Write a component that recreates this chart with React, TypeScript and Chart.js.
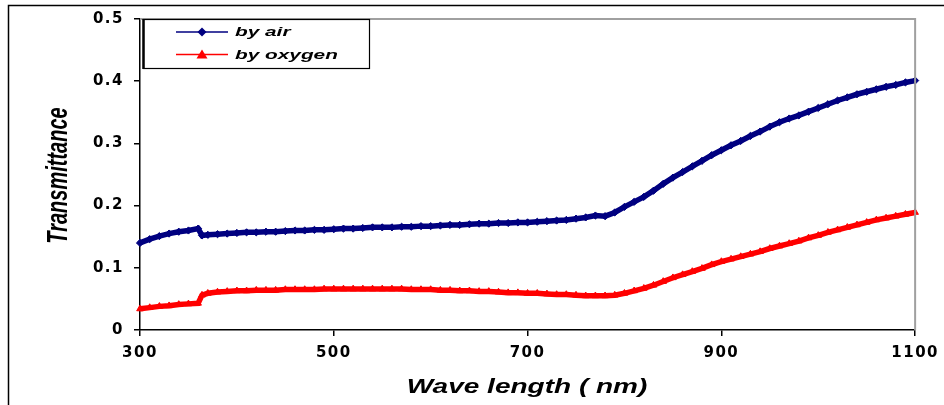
import React, { useEffect, useRef } from "react";
import { Chart, registerables } from "chart.js";

Chart.register(...registerables);

// Wavelength (nm)
const wavelengths = [
  300, 310, 320, 330, 340, 350, 360, 364, 370, 380, 390, 400, 410, 420, 430, 440, 450, 460, 470, 480,
  490, 500, 510, 520, 530, 540, 550, 560, 570, 580, 590, 600, 610, 620, 630, 640, 650, 660, 670, 680,
  690, 700, 710, 720, 730, 740, 750, 760, 770, 780, 790, 800, 810, 820, 830, 840, 850, 860, 870, 880,
  890, 900, 910, 920, 930, 940, 950, 960, 970, 980, 990, 1000, 1010, 1020, 1030, 1040, 1050, 1060,
  1070, 1080, 1090, 1100,
];

// Transmittance, "by air"
const airT = [
  0.14, 0.146, 0.151, 0.155, 0.158, 0.16, 0.163, 0.152, 0.153, 0.154, 0.155, 0.156, 0.157, 0.157, 0.158, 0.158, 0.159, 0.16, 0.16, 0.161,
  0.161, 0.162, 0.163, 0.163, 0.164, 0.165, 0.165, 0.165, 0.166, 0.166, 0.167, 0.167, 0.168, 0.169, 0.169, 0.17, 0.171, 0.171, 0.172, 0.172,
  0.173, 0.173, 0.174, 0.175, 0.176, 0.177, 0.179, 0.181, 0.184, 0.183, 0.189, 0.198, 0.206, 0.214, 0.224, 0.235, 0.245, 0.254, 0.263, 0.272,
  0.281, 0.289, 0.297, 0.304, 0.312, 0.319, 0.327, 0.334, 0.34, 0.345, 0.351, 0.357, 0.363, 0.369, 0.374, 0.379, 0.383, 0.387,
  0.391, 0.394, 0.398, 0.401,
];

// Transmittance, "by oxygen"
const oxygenT = [
  0.034, 0.036, 0.038, 0.039, 0.041, 0.042, 0.043, 0.056, 0.059, 0.061, 0.062, 0.063, 0.063, 0.064, 0.064, 0.064, 0.065, 0.065, 0.065, 0.065,
  0.066, 0.066, 0.066, 0.066, 0.066, 0.066, 0.066, 0.066, 0.066, 0.065, 0.065, 0.065, 0.064, 0.064, 0.063, 0.063, 0.062, 0.062, 0.061, 0.06,
  0.06, 0.059, 0.059, 0.058, 0.057, 0.057, 0.056, 0.055, 0.055, 0.055, 0.056, 0.059, 0.063, 0.067, 0.072, 0.078, 0.084, 0.089, 0.094, 0.099,
  0.105, 0.11, 0.114, 0.118, 0.122, 0.126, 0.131, 0.135, 0.139, 0.143, 0.148, 0.152, 0.157, 0.161, 0.165, 0.169, 0.173, 0.177,
  0.18, 0.183, 0.186, 0.189,
];

const xTicks = [300, 500, 700, 900, 1100];
const yTicks = [0, 0.1, 0.2, 0.3, 0.4, 0.5];
const seriesNames = ["by air", "by oxygen"];
const xTitle = "Wave length ( nm)";
const yTitle = "Transmittance";

const BLUE = "#000080";
const RED = "#FF0000";

const decorPlugin = {
  id: "decor",
  beforeDraw(chart: any) {
    const ctx = chart.ctx;
    ctx.save();
    ctx.fillStyle = "#ffffff";
    ctx.fillRect(0, 0, chart.width, chart.height);
    ctx.restore();
    ctx.letterSpacing = "1.5px";
  },
  beforeDatasetsDraw(chart: any) {
    chart.ctx.letterSpacing = "0px";
  },
  afterDraw(chart: any) {
    const ctx = chart.ctx;
    const a = chart.chartArea;
    ctx.save();
    ctx.letterSpacing = "0px";

    // plot area top/right border (grey)
    ctx.strokeStyle = "#a0a0a0";
    ctx.lineWidth = 2;
    ctx.beginPath();
    ctx.moveTo(a.left, a.top);
    ctx.lineTo(a.right, a.top);
    ctx.lineTo(a.right, a.bottom);
    ctx.stroke();

    // outer frame
    ctx.strokeStyle = "#000";
    ctx.lineWidth = 1.5;
    ctx.beginPath();
    ctx.moveTo(8.5, chart.height);
    ctx.lineTo(8.5, 5.5);
    ctx.lineTo(chart.width, 5.5);
    ctx.stroke();

    ctx.fillStyle = "#000";
    // x title
    ctx.save();
    ctx.font = 'italic bold 20px "Liberation Sans", Arial, sans-serif';
    ctx.textAlign = "center";
    ctx.textBaseline = "alphabetic";
    ctx.translate(527, 393);
    ctx.scale(1.4, 1);
    ctx.fillText(xTitle, 0, 0);
    ctx.restore();

    // y title
    ctx.save();
    ctx.font = 'italic bold 20px "Liberation Sans", Arial, sans-serif';
    ctx.textAlign = "center";
    ctx.textBaseline = "alphabetic";
    ctx.translate(67, 175.5);
    ctx.scale(1.5, 1);
    ctx.rotate(-Math.PI / 2);
    ctx.fillText(yTitle, 0, 0);
    ctx.restore();

    // legend box
    ctx.fillStyle = "#fff";
    ctx.fillRect(143, 19, 226, 49);
    ctx.strokeStyle = "#000";
    ctx.lineWidth = 1.2;
    ctx.strokeRect(143.5, 19.5, 226, 49);
    ctx.lineWidth = 2.5;
    ctx.beginPath();
    ctx.moveTo(143.5, 19);
    ctx.lineTo(143.5, 69);
    ctx.stroke();

    const entries = [
      { y: 32, color: BLUE, style: "diamond", text: seriesNames[0] },
      { y: 54.5, color: RED, style: "triangle", text: seriesNames[1] },
    ];
    entries.forEach((e) => {
      ctx.strokeStyle = e.color;
      ctx.fillStyle = e.color;
      ctx.lineWidth = 1.3;
      ctx.beginPath();
      ctx.moveTo(176, e.y);
      ctx.lineTo(228, e.y);
      ctx.stroke();
      ctx.beginPath();
      if (e.style === "diamond") {
        ctx.moveTo(202, e.y - 4.5);
        ctx.lineTo(206.5, e.y);
        ctx.lineTo(202, e.y + 4.5);
        ctx.lineTo(197.5, e.y);
      } else {
        ctx.moveTo(202, e.y - 5);
        ctx.lineTo(207.5, e.y + 4);
        ctx.lineTo(196.5, e.y + 4);
      }
      ctx.closePath();
      ctx.fill();

      ctx.save();
      ctx.fillStyle = "#000";
      ctx.font = 'italic bold 13px "Liberation Sans", Arial, sans-serif';
      ctx.textAlign = "left";
      ctx.textBaseline = "alphabetic";
      ctx.translate(235, e.y + 4);
      ctx.scale(1.6, 1);
      ctx.fillText(e.text, 0, 0);
      ctx.restore();
    });

    ctx.restore();
  },
};

export default function App() {
  const ref = useRef<HTMLCanvasElement>(null);

  useEffect(() => {
    document.body.style.margin = "0";
    const canvas = ref.current;
    if (!canvas) return;
    const tickFont = { family: '"DejaVu Sans", sans-serif', weight: "bold" as const, size: 15 };
    const chart = new Chart(canvas, {
      type: "line",
      data: {
        datasets: [
          {
            label: seriesNames[0],
            data: wavelengths.map((x, i) => ({ x, y: airT[i] })),
            borderColor: BLUE,
            backgroundColor: BLUE,
            borderWidth: 5.5,
            pointStyle: "rectRot",
            pointRadius: 3.6,
            pointBorderWidth: 1,
            pointBorderColor: BLUE,
            pointBackgroundColor: BLUE,
            tension: 0,
            clip: false as any,
          },
          {
            label: seriesNames[1],
            data: wavelengths.map((x, i) => ({ x, y: oxygenT[i] })),
            borderColor: RED,
            backgroundColor: RED,
            borderWidth: 5.5,
            pointStyle: "triangle",
            pointRadius: 3.8,
            pointBorderWidth: 1,
            pointBorderColor: RED,
            pointBackgroundColor: RED,
            tension: 0,
            clip: false as any,
          },
        ],
      },
      options: {
        responsive: false,
        animation: false,
        events: [],
        layout: { padding: { left: 0, top: 17, right: 25, bottom: 0 } },
        plugins: {
          legend: { display: false },
          tooltip: { enabled: false },
        },
        scales: {
          x: {
            type: "linear",
            min: 300,
            max: 1100,
            afterBuildTicks: (s: any) => {
              s.ticks = xTicks.map((v) => ({ value: v }));
            },
            afterFit: (s: any) => {
              s.height = 75;
            },
            grid: {
              display: true,
              drawOnChartArea: false,
              drawTicks: true,
              tickLength: 6,
              color: "#000",
              lineWidth: 1.5,
            },
            border: { display: true, color: "#000", width: 1.5 },
            ticks: {
              color: "#000",
              font: tickFont,
              padding: 8,
              autoSkip: false,
              maxRotation: 0,
              callback: (v: any) => String(v),
            },
          },
          y: {
            type: "linear",
            min: 0,
            max: 0.5,
            afterBuildTicks: (s: any) => {
              s.ticks = yTicks.map((v) => ({ value: v }));
            },
            afterFit: (s: any) => {
              s.width = 140;
            },
            grid: {
              display: true,
              drawOnChartArea: false,
              drawTicks: true,
              tickLength: 6,
              color: "#000",
              lineWidth: 1.5,
            },
            border: { display: true, color: "#000", width: 1.5 },
            ticks: {
              color: "#000",
              font: tickFont,
              padding: 10,
              callback: (v: any) => (Number(v) === 0 ? "0" : Number(v).toFixed(1)),
            },
          },
        },
      },
      plugins: [decorPlugin],
    });
    return () => chart.destroy();
  }, []);

  return (
    <div style={{ width: 944, height: 405, position: "relative" }}>
      <canvas ref={ref} width={944} height={405} style={{ display: "block" }} />
    </div>
  );
}
